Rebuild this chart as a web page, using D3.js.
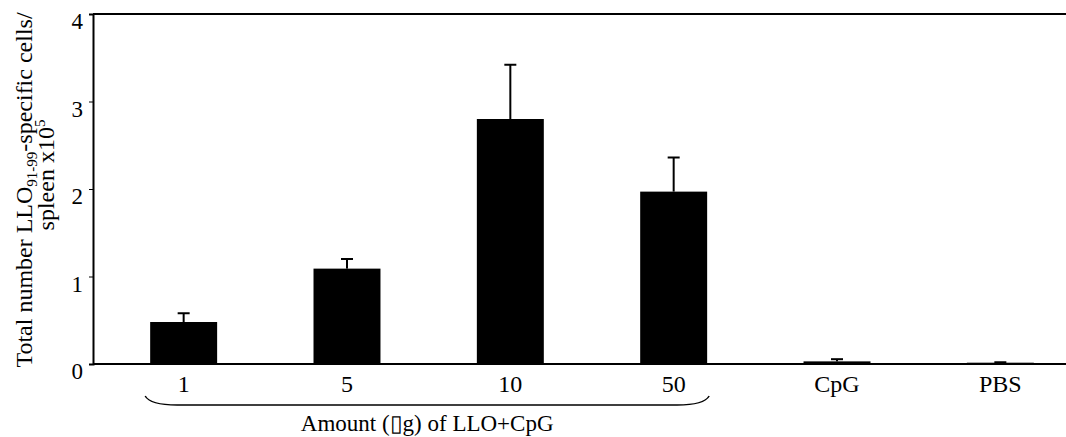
<!DOCTYPE html>
<html>
<head>
<meta charset="utf-8">
<script src="https://cdn.jsdelivr.net/npm/d3@7"></script>
<style>
  html, body { margin: 0; padding: 0; background: #fff; }
  svg { display: block; }
</style>
</head>
<body>
<div id="chart"></div>
<script>
// LLO-specific cells per spleen, by immunisation group

const groups   = ["1", "5", "10", "50", "CpG", "PBS"];
const means    = [0.48, 1.09, 2.80, 1.97, 0.03, 0.015];
const errors   = [0.10, 0.11, 0.62, 0.39, 0.025, 0.005];
const yTicks   = [0, 1, 2, 3, 4];
const braced   = ["1", "5", "10", "50"];

const W = 1066, H = 437;
const FONT = "'Liberation Serif', 'Times New Roman', serif";

const rows = groups.map((g, i) => ({ group: g, mean: means[i], err: errors[i] }));

const svg = d3.select("#chart").append("svg")
  .attr("width", W)
  .attr("height", H);

const x = d3.scaleBand()
  .domain(groups)
  .range([93, 1091])
  .paddingInner(0.59)
  .paddingOuter(0.35);

const y = d3.scaleLinear()
  .domain([0, 4])
  .range([364, 14]);

// frame: top line runs off the right edge
svg.append("line")
  .attr("x1", 93).attr("x2", W)
  .attr("y1", y(4)).attr("y2", y(4))
  .attr("stroke", "#000").attr("stroke-width", 2);

// bars
svg.append("g").selectAll("rect")
  .data(rows)
  .join("rect")
    .attr("x", d => x(d.group))
    .attr("width", x.bandwidth())
    .attr("y", d => y(d.mean))
    .attr("height", d => y(0) - y(d.mean))
    .attr("fill", "#000");

// error bars (upper only)
const eb = svg.append("g")
  .attr("stroke", "#000")
  .attr("stroke-width", 2);

eb.selectAll("line.stem")
  .data(rows)
  .join("line")
    .attr("class", "stem")
    .attr("x1", d => x(d.group) + x.bandwidth() / 2)
    .attr("x2", d => x(d.group) + x.bandwidth() / 2)
    .attr("y1", d => y(d.mean))
    .attr("y2", d => y(d.mean + d.err));

eb.selectAll("line.cap")
  .data(rows)
  .join("line")
    .attr("class", "cap")
    .attr("x1", d => x(d.group) + x.bandwidth() / 2 - 6)
    .attr("x2", d => x(d.group) + x.bandwidth() / 2 + 6)
    .attr("y1", d => y(d.mean + d.err))
    .attr("y2", d => y(d.mean + d.err));

// y axis
const yAxis = svg.append("g")
  .attr("transform", "translate(93,0)")
  .call(d3.axisLeft(y).tickValues(yTicks).tickSize(4).tickPadding(6).tickFormat(d3.format("d")));

yAxis.select(".domain").attr("stroke", "#000").attr("stroke-width", 2);
yAxis.selectAll(".tick line").attr("stroke", "#000").attr("stroke-width", 1);
yAxis.selectAll(".tick text")
  .attr("dy", "0.64em")
  .attr("fill", "#000")
  .style("font-family", FONT)
  .style("font-size", "23px");

// x axis (zero line)
const xAxis = svg.append("g")
  .attr("transform", `translate(0,${y(0)})`)
  .call(d3.axisBottom(x).tickSize(0));

xAxis.select(".domain")
  .attr("d", `M93,0H${W}`)
  .attr("stroke", "#000").attr("stroke-width", 2);
xAxis.selectAll(".tick text")
  .attr("y", 28)
  .attr("dy", 0)
  .attr("fill", "#000")
  .style("font-family", FONT)
  .style("font-size", "24px");

// brace under the LLO+CpG groups
const bx0 = x(braced[0]) - 5;
const bx1 = x(braced[braced.length - 1]) + x.bandwidth() + 2;
const byTop = 396, byBot = 405;

svg.append("path")
  .attr("d", `M${bx0},${byTop} Q${bx0 + 5},${byBot} ${bx0 + 32},${byBot}` +
             ` L${bx1 - 32},${byBot} Q${bx1 - 5},${byBot} ${bx1},${byTop}`)
  .attr("fill", "none")
  .attr("stroke", "#000")
  .attr("stroke-width", 1.5);

svg.append("text")
  .attr("x", (bx0 + bx1) / 2)
  .attr("y", 431)
  .attr("text-anchor", "middle")
  .attr("fill", "#000")
  .style("font-family", FONT)
  .style("font-size", "23px")
  .text("Amount (\u25AFg) of LLO+CpG");

// y axis title, two rotated lines
const t1 = svg.append("text")
  .attr("transform", "translate(32,190) rotate(-90)")
  .attr("text-anchor", "middle")
  .attr("fill", "#000")
  .style("font-family", FONT)
  .style("font-size", "24px");
t1.append("tspan").text("Total number LLO");
t1.append("tspan").attr("dy", 5).style("font-size", "15px").text("91-99");
t1.append("tspan").attr("dy", -5).text("-specific cells/");

const t2 = svg.append("text")
  .attr("transform", "translate(54,175) rotate(-90)")
  .attr("text-anchor", "middle")
  .attr("fill", "#000")
  .style("font-family", FONT)
  .style("font-size", "24px");
t2.append("tspan").text("spleen x10");
t2.append("tspan").attr("dy", -9).style("font-size", "15px").text("5");
</script>
</body>
</html>
